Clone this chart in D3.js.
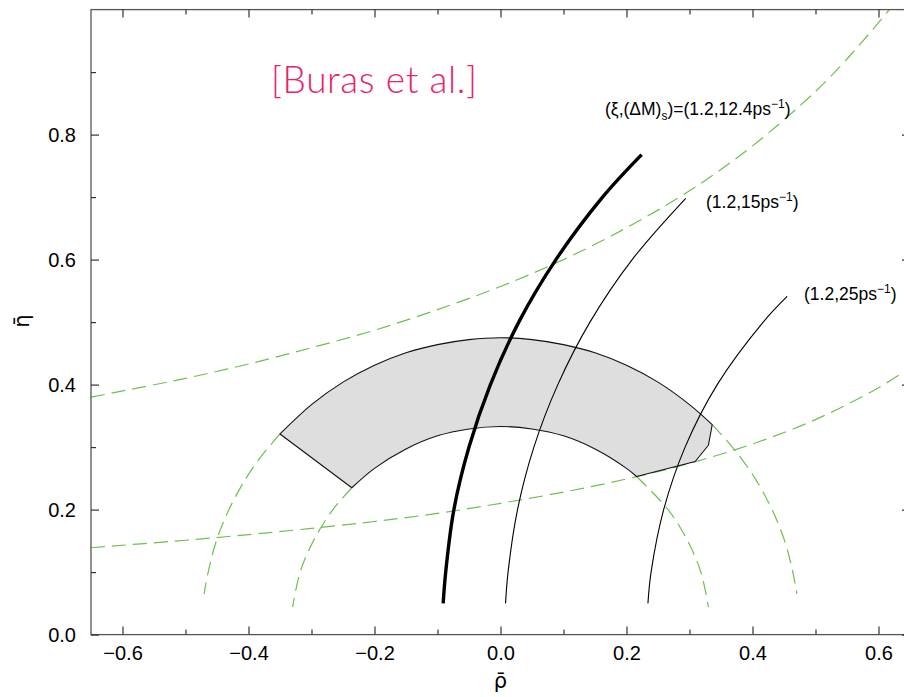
<!DOCTYPE html>
<html>
<head>
<meta charset="utf-8">
<script src="https://cdn.jsdelivr.net/npm/d3@7"></script>
<style>
  html, body { margin: 0; padding: 0; background: #fff; }
  svg { display: block; }
</style>
</head>
<body>
<svg id="chart" width="904" height="697"></svg>
<script>
// ---------- data (rho, eta) ----------
const xDomain = [-0.65, 0.65];
const yDomain = [0, 1.0];
const xMajorTicks = [-0.6, -0.4, -0.2, 0.0, 0.2, 0.4, 0.6];
const xMinorTicks = [-0.5, -0.3, -0.1, 0.1, 0.3, 0.5];
const yMajorTicks = [0.0, 0.2, 0.4, 0.6, 0.8];
const yMinorTicks = [0.1, 0.3, 0.5, 0.7, 0.9];

// allowed region (shaded band)
const regionOuterArc = [[-0.350,0.321],[-0.30,0.368],[-0.25,0.404],[-0.20,0.431],[-0.15,0.451],[-0.10,0.464],[-0.05,0.472],[0.00,0.475],[0.05,0.472],[0.10,0.464],[0.15,0.451],[0.20,0.431],[0.25,0.404],[0.30,0.368],[0.336,0.336]];
const regionRightEdge = [[0.336,0.336],[0.333,0.319],[0.330,0.303],[0.309,0.277],[0.216,0.253]];
const regionInnerArc = [[0.216,0.253],[0.20,0.266],[0.15,0.297],[0.10,0.318],[0.05,0.329],[0.00,0.333],[-0.05,0.329],[-0.10,0.318],[-0.15,0.297],[-0.20,0.266],[-0.236,0.235]];

// green dashed constraint curves
const epsUpper = [[-0.65,0.380],[-0.5,0.410],[-0.4,0.433],[-0.3,0.459],[-0.2,0.487],[-0.1,0.520],[0.0,0.557],[0.1,0.600],[0.2,0.651],[0.3,0.710],[0.4,0.782],[0.5,0.869],[0.55,0.921],[0.6,0.979],[0.617,1.0]];
const epsLower = [[-0.65,0.139],[-0.5,0.151],[-0.4,0.160],[-0.3,0.170],[-0.2,0.181],[-0.1,0.194],[0.0,0.210],[0.1,0.228],[0.2,0.249],[0.3,0.274],[0.4,0.305],[0.5,0.344],[0.6,0.395],[0.65,0.427]];
const rbOuterLeft = [[-0.350,0.321],[-0.380,0.285],[-0.404,0.25],[-0.431,0.2],[-0.451,0.15],[-0.464,0.1],[-0.4705,0.065]];
const rbInnerLeft = [[-0.236,0.235],[-0.266,0.2],[-0.297,0.15],[-0.318,0.1],[-0.330,0.044]];
const rbOuterRight = [[0.336,0.336],[0.368,0.3],[0.404,0.25],[0.431,0.2],[0.451,0.15],[0.464,0.1],[0.4705,0.065]];
const rbInnerRight = [[0.216,0.253],[0.266,0.2],[0.297,0.15],[0.318,0.1],[0.330,0.044]];

// black Delta M_s curves
const dms124 = [[-0.091,0.05],[-0.087,0.1],[-0.074,0.2],[-0.050,0.3],[-0.016,0.4],[0.029,0.5],[0.088,0.6],[0.162,0.7],[0.224,0.768]];
const dms15  = [[0.008,0.05],[0.012,0.1],[0.027,0.2],[0.053,0.3],[0.091,0.4],[0.142,0.5],[0.209,0.6],[0.294,0.698]];
const dms25  = [[0.234,0.05],[0.239,0.1],[0.259,0.2],[0.293,0.3],[0.344,0.4],[0.417,0.5],[0.455,0.541]];

const titleText = "[Buras et al.]";

// ---------- drawing ----------
const svg = d3.select("#chart");
const x = d3.scaleLinear().domain(xDomain).range([91, 910]);
const y = d3.scaleLinear().domain(yDomain).range([634.6, 9.6]);
const line = d3.line().x(d => x(d[0])).y(d => y(d[1])).curve(d3.curveCatmullRom);
const lineLin = d3.line().x(d => x(d[0])).y(d => y(d[1]));

const green = "#6cc14c";
const dashed = [epsUpper, epsLower, rbOuterLeft, rbInnerLeft, rbOuterRight, rbInnerRight];
svg.append("g").selectAll("path").data(dashed).join("path")
  .attr("d", line)
  .attr("fill", "none")
  .attr("stroke", green)
  .attr("stroke-width", 1.2)
  .attr("stroke-dasharray", "14,7");

// shaded region
const outerPath = line(regionOuterArc);
const edgePath = lineLin(regionRightEdge).replace(/^M/, "L");
const innerPath = line(regionInnerArc).replace(/^M/, "L");
svg.append("path")
  .attr("d", outerPath + edgePath + innerPath + "Z")
  .attr("fill", "#dedede")
  .attr("stroke", "#111")
  .attr("stroke-width", 1.1)
  .attr("stroke-linejoin", "round");

// black curves
svg.append("path").attr("d", line(dms15)).attr("fill", "none").attr("stroke", "#000").attr("stroke-width", 1.1);
svg.append("path").attr("d", line(dms25)).attr("fill", "none").attr("stroke", "#000").attr("stroke-width", 1.1);
svg.append("path").attr("d", line(dms124)).attr("fill", "none").attr("stroke", "#000").attr("stroke-width", 3.4);

// frame
svg.append("rect")
  .attr("x", x(xDomain[0])).attr("y", y(yDomain[1]))
  .attr("width", x(xDomain[1]) - x(xDomain[0]))
  .attr("height", y(yDomain[0]) - y(yDomain[1]))
  .attr("fill", "none").attr("stroke", "#555").attr("stroke-width", 1.3);

const fmt = d3.format(".1f");
const tickFont = "'Liberation Sans', Arial, sans-serif";
function styleAxis(g) {
  g.select(".domain").remove();
  g.selectAll(".tick line").attr("stroke", "#333").attr("stroke-width", 1.2);
  g.selectAll(".tick text").attr("fill", "#000").style("font-family", tickFont).style("font-size", "20px");
}
// bottom
svg.append("g").attr("transform", `translate(0,${y(0)})`)
  .call(d3.axisBottom(x).tickValues(xMajorTicks).tickFormat(fmt).tickSizeInner(-8).tickSizeOuter(0).tickPadding(11))
  .call(styleAxis);
svg.append("g").attr("transform", `translate(0,${y(0)})`)
  .call(d3.axisBottom(x).tickValues(xMinorTicks).tickFormat("").tickSizeInner(-5).tickSizeOuter(0))
  .call(styleAxis);
// top
svg.append("g").attr("transform", `translate(0,${y(1)})`)
  .call(d3.axisTop(x).tickValues(xMajorTicks).tickFormat("").tickSizeInner(-8).tickSizeOuter(0))
  .call(styleAxis);
svg.append("g").attr("transform", `translate(0,${y(1)})`)
  .call(d3.axisTop(x).tickValues(xMinorTicks).tickFormat("").tickSizeInner(-5).tickSizeOuter(0))
  .call(styleAxis);
// left
svg.append("g").attr("transform", `translate(${x(xDomain[0])},0)`)
  .call(d3.axisLeft(y).tickValues(yMajorTicks).tickFormat(fmt).tickSizeInner(-8).tickSizeOuter(0).tickPadding(15))
  .call(styleAxis);
svg.append("g").attr("transform", `translate(${x(xDomain[0])},0)`)
  .call(d3.axisLeft(y).tickValues(yMinorTicks).tickFormat("").tickSizeInner(-5).tickSizeOuter(0))
  .call(styleAxis);
// right
svg.append("g").attr("transform", `translate(${x(xDomain[1])},0)`)
  .call(d3.axisRight(y).tickValues(yMajorTicks).tickFormat("").tickSizeInner(-8).tickSizeOuter(0))
  .call(styleAxis);
svg.append("g").attr("transform", `translate(${x(xDomain[1])},0)`)
  .call(d3.axisRight(y).tickValues(yMinorTicks).tickFormat("").tickSizeInner(-5).tickSizeOuter(0))
  .call(styleAxis);

// axis titles
const titleFont = "'DejaVu Sans', sans-serif";
svg.append("text").attr("x", x(0)).attr("y", 688).attr("text-anchor", "middle")
  .style("font-family", titleFont).style("font-size", "21px").text("ρ\u0304");
svg.append("text").attr("transform", "translate(29,321) rotate(-90)").attr("text-anchor", "middle")
  .style("font-family", titleFont).style("font-size", "21px").text("η\u0304");

// title
svg.append("text").attr("x", 271).attr("y", 93)
  .style("font-family", "Lato, 'Open Sans', sans-serif").style("font-size", "37px")
  .style("font-weight", 300).style("letter-spacing", "0.6px")
  .attr("fill", "#e8236a").text(titleText);

// curve labels
const labFont = "'Liberation Sans', Arial, sans-serif";
function curveLabel(px, py, parts) {
  const t = svg.append("text").attr("x", px).attr("y", py)
    .style("font-family", labFont).style("font-size", "17.5px").attr("fill", "#000");
  parts.forEach(p => {
    const s = t.append("tspan").text(p.t);
    if (p.dy) s.attr("dy", p.dy);
    if (p.fs) s.style("font-size", p.fs);
  });
}
curveLabel(605, 115, [
  {t: "(ξ,(ΔM)"}, {t: "s", dy: 5, fs: "12px"}, {t: ")=(1.2,12.4ps", dy: -5},
  {t: "−1", dy: -7, fs: "12px"}, {t: ")", dy: 7}
]);
curveLabel(706, 208, [
  {t: "(1.2,15ps"}, {t: "−1", dy: -7, fs: "12px"}, {t: ")", dy: 7}
]);
curveLabel(804, 300, [
  {t: "(1.2,25ps"}, {t: "−1", dy: -7, fs: "12px"}, {t: ")", dy: 7}
]);
</script>
</body>
</html>
